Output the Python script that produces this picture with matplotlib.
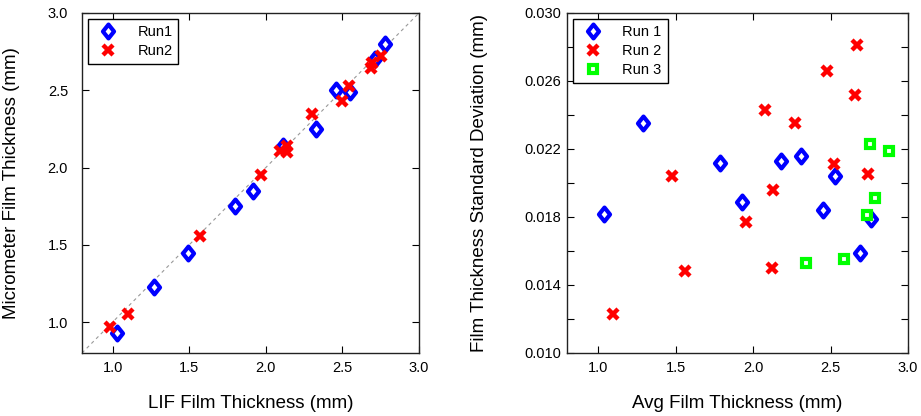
import matplotlib
matplotlib.use("Agg")
import matplotlib.pyplot as plt
from matplotlib.path import Path

plt.rcParams['font.family'] = ['Liberation Sans', 'DejaVu Sans']

# left panel: LIF vs micrometer
lif_run1 = [1.03, 1.27, 1.49, 1.80, 1.915, 2.11, 2.33, 2.46, 2.55, 2.71, 2.78]
mic_run1 = [0.93, 1.23, 1.45, 1.75, 1.85, 2.14, 2.25, 2.50, 2.49, 2.705, 2.80]
lif_run2 = [0.98, 1.10, 1.57, 1.97, 2.09, 2.14, 2.14, 2.30, 2.50, 2.545, 2.685, 2.69, 2.755]
mic_run2 = [0.97, 1.05, 1.555, 1.95, 2.105, 2.14, 2.10, 2.345, 2.43, 2.53, 2.645, 2.675, 2.72]

# right panel: avg thickness vs std dev
avg_run1 = [1.04, 1.29, 1.79, 1.93, 2.18, 2.31, 2.53, 2.45, 2.69, 2.76]
std_run1 = [0.0182, 0.0235, 0.0212, 0.0189, 0.0213, 0.0216, 0.0204, 0.0184, 0.0159, 0.0179]
avg_run2 = [1.095, 1.48, 1.56, 1.955, 2.08, 2.13, 2.12, 2.27, 2.475, 2.52, 2.67, 2.655, 2.74]
std_run2 = [0.0123, 0.0204, 0.0148, 0.0177, 0.0243, 0.0196, 0.0150, 0.0235, 0.0266, 0.0211, 0.0281, 0.0252, 0.0205]
avg_run3 = [2.34, 2.59, 2.755, 2.875, 2.79, 2.735]
std_run3 = [0.0153, 0.0155, 0.0223, 0.0219, 0.0191, 0.0181]

fig = plt.figure(figsize=(9.21, 4.16), dpi=100)
ax1 = fig.add_axes([82/921, 63/416, 337/921, 340/416])
ax2 = fig.add_axes([567/921, 63/416, 341/921, 340/416])

# taller than wide, like the matlab diamond
diamond = Path([(0, 1), (0.8, 0), (0, -1), (-0.8, 0), (0, 1)],
               [Path.MOVETO, Path.LINETO, Path.LINETO, Path.LINETO, Path.CLOSEPOLY])
dia = dict(marker=diamond, linestyle='none', color='#0000ff', markerfacecolor='white',
           markeredgewidth=3, markersize=10)
crs = dict(marker='x', linestyle='none', color='#ff0000', markeredgewidth=3.2, markersize=7.5)
sqr = dict(marker='s', linestyle='none', color='#00ff00', markerfacecolor='white',
           markeredgewidth=3, markersize=5.5)

ax1.plot([0.8, 3.0], [0.8, 3.0], linestyle='--', color='#999999', linewidth=0.8, dashes=(3, 3))
ax1.plot(lif_run1, mic_run1, label='Run1', **dia)
ax1.plot(lif_run2, mic_run2, label='Run2', **crs)
ax1.set_xlim(0.8, 3.0)
ax1.set_ylim(0.8, 3.0)
ax1.set_xticks([1.0, 1.5, 2.0, 2.5, 3.0])
ax1.set_yticks([1.0, 1.5, 2.0, 2.5, 3.0])
ax1.set_xticklabels(['1.0', '1.5', '2.0', '2.5', '3.0'])
ax1.set_yticklabels(['1.0', '1.5', '2.0', '2.5', '3.0'])
ax1.set_xlabel('LIF Film Thickness (mm)', fontsize=13.5, labelpad=14)
ax1.set_ylabel('Micrometer Film Thickness (mm)', fontsize=13.5, labelpad=20)

ax2.plot(avg_run1, std_run1, label='Run 1', **dia)
ax2.plot(avg_run2, std_run2, label='Run 2', **crs)
ax2.plot(avg_run3, std_run3, label='Run 3', **sqr)
ax2.set_xlim(0.8, 3.0)
ax2.set_ylim(0.010, 0.030)
ax2.set_xticks([1.0, 1.5, 2.0, 2.5, 3.0])
ax2.set_xticklabels(['1.0', '1.5', '2.0', '2.5', '3.0'])
yt = [0.010, 0.012, 0.014, 0.016, 0.018, 0.020, 0.022, 0.024, 0.026, 0.028, 0.030]
ax2.set_yticks(yt)
ax2.set_yticklabels(['%.3f' % v if i % 2 == 0 else '' for i, v in enumerate(yt)])
ax2.set_xlabel('Avg Film Thickness (mm)', fontsize=13.5, labelpad=14)
ax2.set_ylabel('Film Thickness Standard Deviation (mm)', fontsize=13.5, labelpad=26)

for ax in (ax1, ax2):
    ax.tick_params(direction='in', top=True, right=True, length=5, labelsize=10.5)
    ax.tick_params(axis='x', pad=6)
    for s in ax.spines.values():
        s.set_linewidth(1.0)
        s.set_color('#222222')
    leg = ax.legend(loc='upper left', fancybox=False, edgecolor='black', framealpha=1,
                    fontsize=10.5, borderaxespad=0.4, handlelength=2.0, handletextpad=1.0,
                    borderpad=0.4, labelspacing=0.35)
    leg.get_frame().set_linewidth(1.0)
ax1.tick_params(axis='y', pad=10)
ax2.tick_params(axis='y', pad=4)

fig.savefig('out.png', dpi=100)
